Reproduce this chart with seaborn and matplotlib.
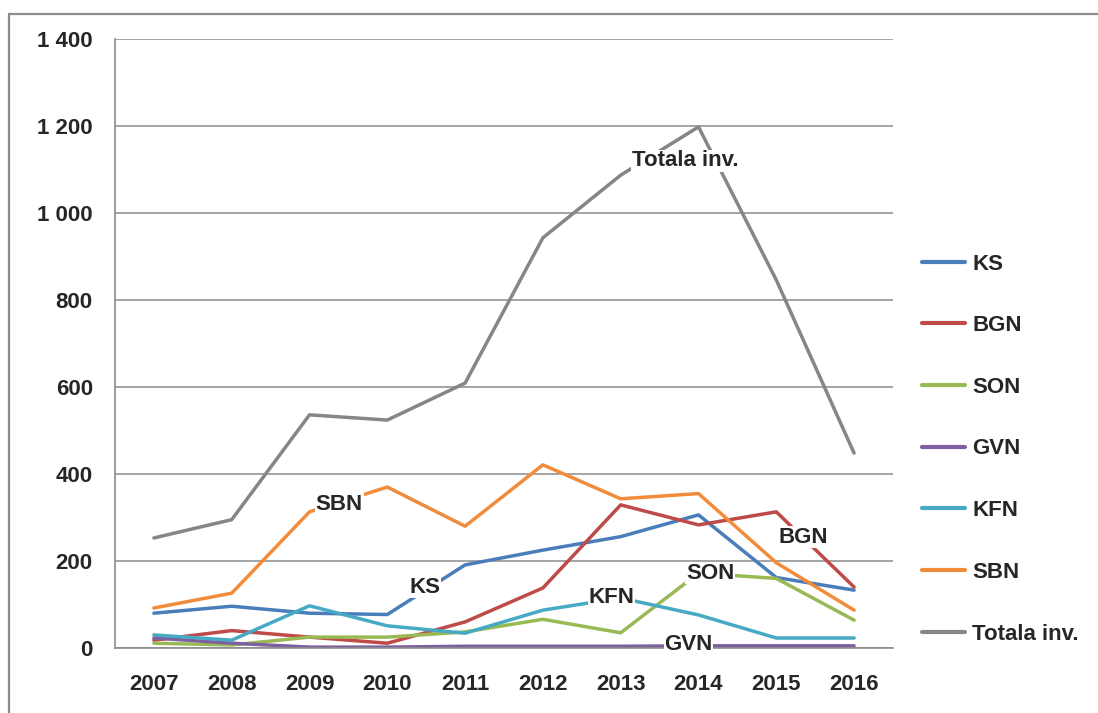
import numpy as np
import pandas as pd
import matplotlib
matplotlib.use("Agg")
import matplotlib.pyplot as plt
import seaborn as sns
from matplotlib.lines import Line2D
from matplotlib.ticker import FuncFormatter, FixedLocator

years = ["2007", "2008", "2009", "2010", "2011", "2012", "2013", "2014", "2015", "2016"]
series_names = ["KS", "BGN", "SON", "GVN", "KFN", "SBN", "Totala inv."]

ks = [80, 96, 80, 77, 191, 225, 256, 306, 162, 133]
bgn = [18, 40, 25, 11, 60, 138, 329, 283, 313, 140]
son = [11, 7, 25, 25, 37, 66, 35, 172, 160, 64]
gvn = [23, 11, 2, 2, 4, 4, 4, 5, 5, 5]
kfn = [30, 18, 97, 51, 34, 87, 115, 76, 23, 23]
sbn = [92, 126, 313, 370, 280, 421, 343, 355, 196, 87]
total = [253, 295, 536, 524, 609, 943, 1087, 1198, 846, 448]

colors = ["#4A7EBB", "#BE4B48", "#98B954", "#7D60A0", "#46AAC5", "#F28C3A", "#868686"]

# in-plot labels: (text, x index, y value)
labels_in_plot = [
    ("Totala inv.", 6.14, 1120),
    ("SBN", 2.08, 331),
    ("KS", 3.28, 140),
    ("KFN", 5.59, 117),
    ("SON", 6.84, 172),
    ("GVN", 6.56, 7),
    ("BGN", 8.03, 255),
]

values = [ks, bgn, son, gvn, kfn, sbn, total]
rows = []
for name, vals in zip(series_names, values):
    for i, v in enumerate(vals):
        rows.append({"x": i, "value": v, "series": name})
df = pd.DataFrame(rows)

sns.set_style("white")
plt.rcParams["font.family"] = ["Liberation Sans", "DejaVu Sans"]
plt.rcParams["font.weight"] = "bold"

fig = plt.figure(figsize=(10.98, 7.13), dpi=100)
ax = fig.add_axes([115 / 1098, 1 - 648 / 713, (893 - 115) / 1098, (648 - 39) / 713])

sns.lineplot(data=df, x="x", y="value", hue="series", hue_order=series_names,
             palette=colors, linewidth=2.5, ax=ax, legend=True)

ax.set_xlim(-0.5, 9.5)
ax.set_ylim(0, 1400)
ax.set_yticks(range(0, 1401, 200))
ax.yaxis.set_major_formatter(FuncFormatter(lambda v, p: f"{int(v):,}".replace(",", " ")))
ax.xaxis.set_major_locator(FixedLocator(np.arange(-0.5, 10, 1)))
ax.xaxis.set_minor_locator(FixedLocator(np.arange(0, 10)))
ax.set_xticklabels([], minor=False)
ax.set_xticklabels(years, minor=True)
ax.tick_params(axis="x", which="major", length=5, width=1.2, color="#8c8c8c", direction="out")
ax.tick_params(axis="x", which="minor", length=0, pad=19, labelsize=16)
ax.tick_params(axis="y", length=5, width=1.2, color="#8c8c8c", direction="out", pad=11, labelsize=16)
ax.set_xlabel("")
ax.set_ylabel("")

ax.grid(axis="y", color="#8c8c8c", linewidth=1.1)
ax.set_axisbelow(True)
for s in ["top", "right"]:
    ax.spines[s].set_visible(False)
for s in ["left", "bottom"]:
    ax.spines[s].set_color("#8c8c8c")
    ax.spines[s].set_linewidth(1.2)

for txt, lx, ly in labels_in_plot:
    ax.text(lx, ly, txt, fontsize=16, fontweight="bold", va="center", ha="left",
            bbox=dict(facecolor="white", edgecolor="none", pad=0.5), zorder=5)

handles, labs = ax.get_legend_handles_labels()
for h in handles:
    h.set_linewidth(3)
ax.legend(handles, labs, loc="center left", bbox_to_anchor=(922 / 1098, 1 - 449 / 713),
          bbox_transform=fig.transFigure, frameon=False, fontsize=16,
          handlelength=1.95, handletextpad=0.3, labelspacing=1.83,
          borderpad=0, borderaxespad=0)

# outer chart frame (top and left edges visible)
fig.add_artist(Line2D([9 / 1098, 1], [1 - 14 / 713, 1 - 14 / 713], color="#8c8c8c", linewidth=1.6))
fig.add_artist(Line2D([9 / 1098, 9 / 1098], [0, 1 - 14 / 713], color="#8c8c8c", linewidth=1.6))

fig.savefig("out.png", dpi=100)
